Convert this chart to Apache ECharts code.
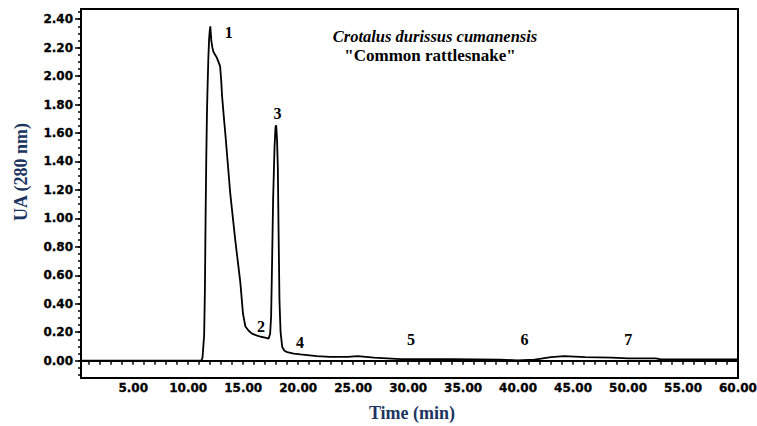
<!DOCTYPE html>
<html>
<head>
<meta charset="utf-8">
<script src="https://cdn.jsdelivr.net/npm/echarts@6/dist/echarts.min.js"></script>
<style>html,body{margin:0;padding:0;background:#fff}#chart{width:757px;height:426px}</style>
</head>
<body>
<div id="chart"></div>
<script>
// Time (min)
const time = [0.25, 5, 10, 11.2, 11.3, 11.45, 11.52, 11.58, 11.64, 11.7, 11.76, 11.83, 11.9, 11.96, 12.01, 12.1, 12.2, 12.3, 12.6, 12.9, 13.01, 13.07, 13.22, 13.37, 13.83, 14.29, 14.74, 14.98, 15.2, 15.5, 15.8, 16.2, 16.6, 17.0, 17.32, 17.45, 17.54, 17.63, 17.72, 17.85, 17.94, 18.0, 18.08, 18.15, 18.22, 18.3, 18.4, 18.55, 18.75, 19.0, 19.6, 20.2, 21.7, 22.9, 24.5, 25.4, 26.9, 29.3, 33.9, 38.4, 39.95, 41.5, 43.0, 44.2, 46.1, 48.5, 50.0, 52.5, 53.0, 60];
// UA (280 nm)
const absorbance = [0, 0, 0, 0, 0.02, 0.18, 0.5, 1.0, 1.4, 1.72, 1.92, 2.12, 2.26, 2.32, 2.35, 2.25, 2.2, 2.17, 2.13, 2.07, 1.96, 1.87, 1.73, 1.6, 1.17, 0.84, 0.55, 0.33, 0.24, 0.21, 0.19, 0.178, 0.168, 0.162, 0.155, 0.19, 0.31, 0.7, 1.13, 1.5, 1.64, 1.655, 1.55, 1.36, 0.9, 0.42, 0.2, 0.096, 0.07, 0.06, 0.049, 0.044, 0.032, 0.027, 0.027, 0.032, 0.021, 0.011, 0.011, 0.007, 0.002, 0.007, 0.025, 0.032, 0.025, 0.021, 0.016, 0.016, 0.009, 0.009];

const peakNames = ['1', '2', '3', '4', '5', '6', '7'];
const peakTimes = [13.68, 16.61, 18.11, 20.16, 30.26, 40.59, 50.03];
const peakValues = [2.31, 0.24, 1.74, 0.13, 0.15, 0.15, 0.15];

const xLabelValues = [5, 10, 15, 20, 25, 30, 35, 40, 45, 50, 55, 60];
const xTickValues = [1, 2, 3, 4, 5, 6, 7, 8, 9, 10, 11, 12, 13, 14, 15, 16, 17, 18, 19, 20, 21, 22, 23, 24, 25, 26, 27, 28, 29, 30, 31, 32, 33, 34, 35, 36, 37, 38, 39, 40, 41, 42, 43, 44, 45, 46, 47, 48, 49, 50, 51, 52, 53, 54, 55, 56, 57, 58, 59, 60];
const yLabelValues = [0, 0.2, 0.4, 0.6, 0.8, 1.0, 1.2, 1.4, 1.6, 1.8, 2.0, 2.2, 2.4];
const yMinorTickValues = [-0.1, -0.05, 0, 0.05, 0.1, 0.15, 0.2, 0.25, 0.3, 0.35, 0.4, 0.45, 0.5, 0.55, 0.6, 0.65, 0.7, 0.75, 0.8, 0.85, 0.9, 0.95, 1.0, 1.05, 1.1, 1.15, 1.2, 1.25, 1.3, 1.35, 1.4, 1.45, 1.5, 1.55, 1.6, 1.65, 1.7, 1.75, 1.8, 1.85, 1.9, 1.95, 2.0, 2.05, 2.1, 2.15, 2.2, 2.25, 2.3, 2.35, 2.4, 2.45];

const titleLine1 = 'Crotalus durissus cumanensis';
const titleLine2 = '"Common rattlesnake"';
const xName = 'Time (min)';
const yName = 'UA (280 nm)';

const sans = '"DejaVu Sans", sans-serif';
const serif = '"Liberation Serif", "DejaVu Serif", serif';
const nameColor = '#1c3560';

const chart = echarts.init(document.getElementById('chart'), null, {renderer: 'svg'});
chart.setOption({
  animation: false,
  backgroundColor: '#fff',
  grid: {left: 81, right: 19, top: 9, bottom: 48, show: true, borderColor: '#000', borderWidth: 2, outerBoundsMode: 'none', containLabel: false},
  xAxis: {
    type: 'value', min: 0.25, max: 60,
    axisLine: {show: true, lineStyle: {color: '#000', width: 2}},
    axisTick: {show: true, customValues: xTickValues, length: 4, lineStyle: {color: '#000', width: 1.5}},
    axisLabel: {customValues: xLabelValues, formatter: v => Number(v).toFixed(2), margin: 4, fontFamily: sans, fontWeight: 'bold', fontSize: 12, color: '#000', textBorderColor: '#000', textBorderWidth: 0.3},
    splitLine: {show: false}
  },
  yAxis: [{
    type: 'value', min: -0.122, max: 2.472, position: 'left',
    axisLine: {show: true, onZero: false, lineStyle: {color: '#000', width: 2}},
    axisTick: {show: true, customValues: yLabelValues, length: 6, lineStyle: {color: '#000', width: 1.5}},
    axisLabel: {customValues: yLabelValues, formatter: v => Number(v).toFixed(2), margin: 8, fontFamily: sans, fontWeight: 'bold', fontSize: 12, color: '#000', textBorderColor: '#000', textBorderWidth: 0.3},
    splitLine: {show: false}
  }, {
    type: 'value', min: -0.122, max: 2.472, position: 'left',
    axisLine: {show: false},
    axisTick: {show: true, customValues: yMinorTickValues, length: 3, lineStyle: {color: '#000', width: 1.5}},
    axisLabel: {show: false},
    splitLine: {show: false}
  }],
  graphic: [
    {type: 'text', x: 435, y: 36, style: {text: titleLine1, fill: '#000', font: 'italic bold 16.5px ' + serif, textAlign: 'center', textVerticalAlign: 'middle'}},
    {type: 'text', x: 430, y: 55, style: {text: titleLine2, fill: '#000', font: 'bold 17px ' + serif, textAlign: 'center', textVerticalAlign: 'middle'}},
    {type: 'text', x: 412, y: 413, style: {text: xName, fill: nameColor, font: 'bold 18px ' + serif, textAlign: 'center', textVerticalAlign: 'middle'}},
    {type: 'text', x: 21, y: 172, rotation: Math.PI / 2, style: {text: yName, fill: nameColor, font: 'bold 18px ' + serif, textAlign: 'center', textVerticalAlign: 'middle'}}
  ],
  series: [{
    type: 'line',
    data: time.map((t, i) => [t, absorbance[i]]),
    showSymbol: false,
    symbol: 'none',
    lineStyle: {color: '#000', width: 1.8},
    z: 3
  }, {
    type: 'scatter',
    data: peakTimes.map((t, i) => ({name: peakNames[i], value: [t, peakValues[i]]})),
    symbolSize: 1,
    itemStyle: {color: 'rgba(0,0,0,0)', opacity: 1},
    label: {show: true, position: 'inside', formatter: p => p.name, fontFamily: serif, fontWeight: 'bold', fontSize: 16, color: '#000', opacity: 1},
    z: 4
  }]
});
</script>
</body>
</html>
